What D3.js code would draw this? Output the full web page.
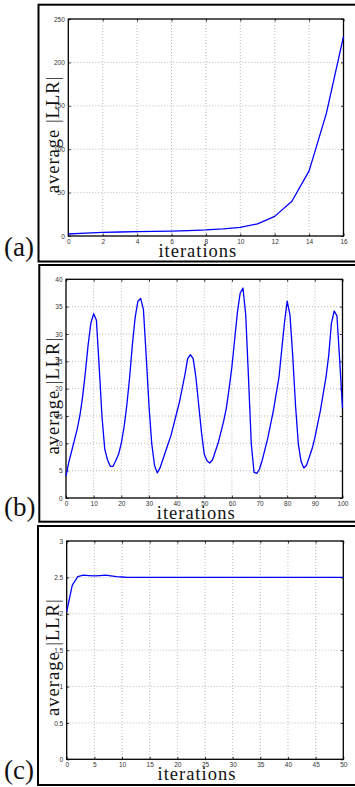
<!DOCTYPE html>
<html>
<head>
<meta charset="utf-8">
<script src="https://cdn.jsdelivr.net/npm/d3@7"></script>
<style>
  body { margin: 0; background: #fff; }
  svg { display: block; }
  .tick text { font-family: "Liberation Sans", Arial, sans-serif; font-size: 6.5px; fill: #333; }
  .lab { font-family: "Liberation Serif", "DejaVu Serif", serif; fill: #111; }
</style>
</head>
<body>
<svg width="355" height="787"></svg>
<script>
// (a) average |LLR| per iteration, 0..16
var llrA = [2.3, 3.3, 4.2, 4.6, 5.0, 5.4, 5.7, 6.3, 7.0, 8.2, 10, 14, 22.6, 40, 75, 141, 230];
// (b) 0..100
var llrB = [4, 6.5, 8.5, 10.5, 12.5, 15, 18.5, 23, 28, 32, 33.7,
  32.5, 24, 15, 9, 7, 5.8, 5.8, 6.8, 8, 10,
  13, 17, 22, 28, 33, 36, 36.5, 34.5, 26, 17,
  10, 6, 4.6, 5.5, 7, 8.5, 10, 11.5, 13.5, 15.5,
  17.5, 20, 22.5, 25.5, 26.2, 25.5, 22, 17, 12, 8,
  6.8, 6.4, 7, 8.5, 10, 12, 14, 16.5, 20, 24,
  29, 34, 37.5, 38.4, 33.5, 22, 10, 4.7, 4.5, 5.3,
  7, 9, 11, 13.5, 16, 19, 22, 27, 32, 36,
  33.5, 26, 17, 10, 6.7, 5.5, 6, 7.5, 9, 11,
  13.5, 16, 19, 22, 26, 32, 34.2, 33.3, 25, 16.4];
// (c) 0..50
var llrC = [2.03, 2.39, 2.51, 2.53, 2.525, 2.52, 2.525, 2.53, 2.52, 2.51, 2.505,
  2.5, 2.5, 2.5, 2.5, 2.5, 2.5, 2.5, 2.5, 2.5, 2.5,
  2.5, 2.5, 2.5, 2.5, 2.5, 2.5, 2.5, 2.5, 2.5, 2.5,
  2.5, 2.5, 2.5, 2.5, 2.5, 2.5, 2.5, 2.5, 2.5, 2.5,
  2.5, 2.5, 2.5, 2.5, 2.5, 2.5, 2.5, 2.5, 2.5, 2.5];

var xTicksA = [0, 2, 4, 6, 8, 10, 12, 14, 16];
var yTicksA = [0, 50, 100, 150, 200, 250];
var xTicksB = [0, 10, 20, 30, 40, 50, 60, 70, 80, 90, 100];
var yTicksB = [0, 5, 10, 15, 20, 25, 30, 35, 40];
var xTicksC = [0, 5, 10, 15, 20, 25, 30, 35, 40, 45, 50];
var yTicksC = [0, 0.5, 1, 1.5, 2, 2.5, 3];
var panelNames = ["(a)", "(b)", "(c)"];
var xLabel = "iterations";
var yLabel = "average |LLR|";

var svg = d3.select("svg");

var panels = [
  { name: panelNames[0], vals: llrA, xt: xTicksA, yt: yTicksA, xmax: 16, ymax: 250,
    frame: [38.5, 4.7, 261.5], plot: [68.3, 19, 343.5, 236] },
  { name: panelNames[1], vals: llrB, xt: xTicksB, yt: yTicksB, xmax: 100, ymax: 40,
    frame: [39.3, 265, 521.7], plot: [66, 279.3, 342.5, 498] },
  { name: panelNames[2], vals: llrC, xt: xTicksC, yt: yTicksC, xmax: 50, ymax: 3,
    frame: [38, 526, 785], plot: [66.7, 541, 343.3, 759.3] }
];

panels.forEach(function(p) {
  var g = svg.append("g");
  var L = p.plot[0], T = p.plot[1], R = p.plot[2], B = p.plot[3];

  // outer frame
  g.append("rect")
    .attr("x", p.frame[0]).attr("y", p.frame[1])
    .attr("width", 340).attr("height", p.frame[2] - p.frame[1])
    .attr("fill", "none").attr("stroke", "#000").attr("stroke-width", 2);

  var x = d3.scaleLinear().domain([0, p.xmax]).range([L, R]);
  var y = d3.scaleLinear().domain([0, p.ymax]).range([B, T]);

  // grid
  g.selectAll(".gx").data(p.xt.slice(1, -1)).enter().append("line")
    .attr("x1", d => x(d)).attr("x2", d => x(d)).attr("y1", T).attr("y2", B)
    .attr("stroke", "#aaa").attr("stroke-width", 0.8).attr("stroke-dasharray", "1,2");
  g.selectAll(".gy").data(p.yt.slice(1, -1)).enter().append("line")
    .attr("x1", L).attr("x2", R).attr("y1", d => y(d)).attr("y2", d => y(d))
    .attr("stroke", "#aaa").attr("stroke-width", 0.8).attr("stroke-dasharray", "1,2");

  // axes with inside ticks
  var fmt = d3.format("");
  g.append("g").attr("transform", "translate(0," + B + ")")
    .call(d3.axisBottom(x).tickValues(p.xt).tickSize(-2.5).tickPadding(3.2).tickFormat(fmt))
    .call(a => a.select(".domain").remove());
  g.append("g").attr("transform", "translate(" + L + ",0)")
    .call(d3.axisLeft(y).tickValues(p.yt).tickSize(-2.5).tickPadding(3.5).tickFormat(fmt))
    .call(a => a.select(".domain").remove());
  g.append("g").attr("transform", "translate(0," + T + ")")
    .call(d3.axisTop(x).tickValues(p.xt).tickSize(-2.5).tickFormat(""))
    .call(a => a.select(".domain").remove());
  g.append("g").attr("transform", "translate(" + R + ",0)")
    .call(d3.axisRight(y).tickValues(p.yt).tickSize(-2.5).tickFormat(""))
    .call(a => a.select(".domain").remove());
  g.selectAll(".tick line").attr("stroke", "#000").attr("stroke-width", 0.8);

  // plot box
  g.append("rect").attr("x", L).attr("y", T).attr("width", R - L).attr("height", B - T)
    .attr("fill", "none").attr("stroke", "#000").attr("stroke-width", 1.3);

  // curve
  var line = d3.line().x((d, i) => x(i)).y(d => y(d));
  g.append("path").datum(p.vals).attr("d", line)
    .attr("fill", "none").attr("stroke", "#0000ff").attr("stroke-width", 1.3)
    .attr("stroke-linejoin", "round");

  // labels
  g.append("text").attr("class", "lab")
    .attr("x", (L + R) / 2 - 8).attr("y", B + 21)
    .attr("text-anchor", "middle").attr("font-size", 18.5)
    .attr("letter-spacing", 1)
    .text(xLabel);
  g.append("text").attr("class", "lab")
    .attr("transform", "translate(58.5," + ((T + B) / 2 + 7) + ") rotate(-90)")
    .attr("text-anchor", "middle").attr("font-size", 18.5)
    .attr("letter-spacing", 1)
    .text(yLabel);
  g.append("text").attr("class", "lab")
    .attr("x", 4).attr("y", p.frame[2] - 6)
    .attr("font-size", 27)
    .text(p.name);
});
</script>
</body>
</html>
